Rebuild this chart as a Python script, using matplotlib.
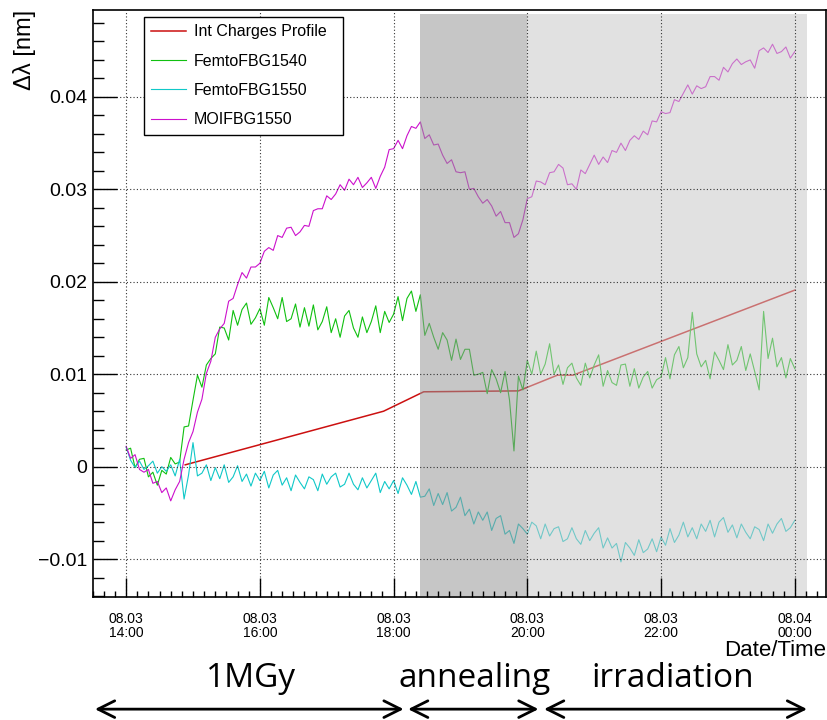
import matplotlib
matplotlib.use("Agg")
import matplotlib.pyplot as plt
import matplotlib.dates as mdates
from matplotlib.ticker import MultipleLocator, FixedLocator, FixedFormatter
import pandas as pd

plt.rcParams['font.family'] = ['Liberation Sans', 'DejaVu Sans']

# sampling of the FBG acquisitions (one value every 4 minutes)
t_start = '2016-08-03 14:00'
t_step = '4min'

moi_1550 = [
    0.0022, 0.0009, 0.0013, -0.0003, -0.0006, -0.0003, -0.0018, -0.0016, -0.0028, -0.0023,
    -0.0037, -0.0025, -0.0016, 0.0008, 0.0026, 0.0038, 0.0059, 0.0073, 0.0101, 0.0114,
    0.0140, 0.0149, 0.0155, 0.0179, 0.0182, 0.0197, 0.0210, 0.0204, 0.0216, 0.0216,
    0.0220, 0.0233, 0.0237, 0.0234, 0.0250, 0.0248, 0.0258, 0.0259, 0.0250, 0.0254,
    0.0261, 0.0260, 0.0277, 0.0279, 0.0279, 0.0293, 0.0289, 0.0295, 0.0305, 0.0299,
    0.0311, 0.0305, 0.0313, 0.0302, 0.0307, 0.0313, 0.0301, 0.0314, 0.0324, 0.0343,
    0.0344, 0.0353, 0.0344, 0.0358, 0.0368, 0.0366, 0.0373, 0.0355, 0.0359, 0.0348,
    0.0349, 0.0337, 0.0328, 0.0332, 0.0319, 0.0318, 0.0319, 0.0300, 0.0301, 0.0292,
    0.0285, 0.0289, 0.0282, 0.0271, 0.0276, 0.0264, 0.0264, 0.0248, 0.0252, 0.0267,
    0.0290, 0.0292, 0.0309, 0.0308, 0.0305, 0.0318, 0.0319, 0.0327, 0.0323, 0.0305,
    0.0306, 0.0300, 0.0321, 0.0317, 0.0327, 0.0337, 0.0327, 0.0335, 0.0329, 0.0342,
    0.0340, 0.0350, 0.0342, 0.0353, 0.0358, 0.0354, 0.0363, 0.0359, 0.0374, 0.0373,
    0.0384, 0.0382, 0.0383, 0.0397, 0.0395, 0.0404, 0.0413, 0.0403, 0.0412, 0.0409,
    0.0411, 0.0422, 0.0422, 0.0418, 0.0432, 0.0427, 0.0436, 0.0441, 0.0435, 0.0438,
    0.0440, 0.0431, 0.0450, 0.0453, 0.0448, 0.0457, 0.0447, 0.0449, 0.0454, 0.0442,
    0.0449,
]

femto_1540 = [
    0.0018, 0.0020, -0.0001, 0.0008, 0.0009, -0.0011, -0.0006, -0.0020, -0.0004, -0.0008,
    0.0010, 0.0003, 0.0005, 0.0043, 0.0044, 0.0072, 0.0099, 0.0086, 0.0110, 0.0117,
    0.0122, 0.0151, 0.0150, 0.0137, 0.0169, 0.0153, 0.0170, 0.0177, 0.0154, 0.0161,
    0.0171, 0.0153, 0.0183, 0.0172, 0.0160, 0.0183, 0.0157, 0.0160, 0.0176, 0.0151,
    0.0172, 0.0152, 0.0175, 0.0148, 0.0157, 0.0173, 0.0145, 0.0160, 0.0140, 0.0163,
    0.0169, 0.0150, 0.0140, 0.0162, 0.0145, 0.0157, 0.0174, 0.0145, 0.0168, 0.0156,
    0.0165, 0.0184, 0.0158, 0.0182, 0.0190, 0.0168, 0.0186, 0.0142, 0.0155, 0.0140,
    0.0127, 0.0145, 0.0137, 0.0115, 0.0138, 0.0116, 0.0127, 0.0127, 0.0099, 0.0100,
    0.0102, 0.0079, 0.0105, 0.0095, 0.0080, 0.0103, 0.0072, 0.0017, 0.0098, 0.0083,
    0.0115, 0.0100, 0.0125, 0.0100, 0.0111, 0.0133, 0.0100, 0.0110, 0.0089, 0.0107,
    0.0112, 0.0096, 0.0088, 0.0112, 0.0096, 0.0110, 0.0121, 0.0087, 0.0104, 0.0091,
    0.0088, 0.0110, 0.0111, 0.0087, 0.0106, 0.0085, 0.0097, 0.0103, 0.0085, 0.0094,
    0.0097, 0.0118, 0.0095, 0.0121, 0.0130, 0.0107, 0.0118, 0.0167, 0.0122, 0.0108,
    0.0115, 0.0095, 0.0124, 0.0115, 0.0105, 0.0132, 0.0110, 0.0115, 0.0130, 0.0104,
    0.0122, 0.0103, 0.0083, 0.0168, 0.0117, 0.0139, 0.0108, 0.0118, 0.0096, 0.0117,
    0.0106,
]

femto_1550 = [
    0.0021, 0.0007, -0.0001, 0.0006, -0.0003, 0.0001, 0.0006, -0.0007, 0.0000, -0.0005,
    0.0002, -0.0010, 0.0008, -0.0035, -0.0009, 0.0026, -0.0010, -0.0007, 0.0002, -0.0015,
    -0.0001, -0.0013, 0.0002, -0.0017, -0.0011, 0.0001, -0.0016, -0.0008, -0.0021, -0.0007,
    -0.0015, -0.0005, -0.0023, -0.0009, -0.0004, -0.0020, -0.0012, -0.0026, -0.0009, -0.0017,
    -0.0024, -0.0011, -0.0014, -0.0026, -0.0008, -0.0019, -0.0011, -0.0007, -0.0022, -0.0019,
    -0.0007, -0.0019, -0.0025, -0.0012, -0.0023, -0.0015, -0.0007, -0.0028, -0.0016, -0.0024,
    -0.0015, -0.0029, -0.0012, -0.0020, -0.0030, -0.0016, -0.0033, -0.0032, -0.0024, -0.0042,
    -0.0029, -0.0041, -0.0028, -0.0048, -0.0044, -0.0033, -0.0053, -0.0046, -0.0062, -0.0049,
    -0.0058, -0.0049, -0.0069, -0.0056, -0.0053, -0.0073, -0.0069, -0.0083, -0.0062, -0.0067,
    -0.0073, -0.0060, -0.0064, -0.0078, -0.0062, -0.0075, -0.0067, -0.0065, -0.0081, -0.0078,
    -0.0066, -0.0078, -0.0084, -0.0069, -0.0080, -0.0072, -0.0066, -0.0088, -0.0077, -0.0088,
    -0.0083, -0.0103, -0.0082, -0.0088, -0.0096, -0.0079, -0.0093, -0.0089, -0.0078, -0.0092,
    -0.0076, -0.0085, -0.0067, -0.0082, -0.0074, -0.0060, -0.0076, -0.0066, -0.0078, -0.0062,
    -0.0070, -0.0058, -0.0076, -0.0060, -0.0055, -0.0071, -0.0063, -0.0077, -0.0062, -0.0071,
    -0.0078, -0.0065, -0.0068, -0.0080, -0.0062, -0.0072, -0.0062, -0.0056, -0.0070, -0.0066,
    -0.0058,
]

# integrated charge profile (break points)
charge_times = ['2016-08-03 14:53', '2016-08-03 17:51', '2016-08-03 18:27', '2016-08-03 19:52',
                '2016-08-03 20:27', '2016-08-03 20:41', '2016-08-04 00:00']
charge_vals = [0.0002, 0.0060, 0.0081, 0.0082, 0.0099, 0.0099, 0.0191]

# shaded periods and phase annotations
dark_span = ('2016-08-03 18:24', '2016-08-03 20:00')
light_span = ('2016-08-03 20:00', '2016-08-04 00:11')
phase_names = ['1MGy', 'annealing', 'irradiation']
phase_starts = ['2016-08-03 13:32', '2016-08-03 18:13', '2016-08-03 20:15']
phase_ends = ['2016-08-03 18:09', '2016-08-03 20:10', '2016-08-04 00:11']
phase_text_x = ['2016-08-03 15:52', '2016-08-03 19:13', '2016-08-03 22:10']

y_ticks = [-0.01, 0.0, 0.01, 0.02, 0.03, 0.04]
y_labels = ['\u22120.01', '0', '0.01', '0.02', '0.03', '0.04']


def dnum(s):
    return mdates.date2num(pd.Timestamp(s))


times = pd.date_range(t_start, periods=len(moi_1550), freq=t_step)
tc = pd.to_datetime(charge_times)

fig = plt.figure(figsize=(8.27, 7.2), dpi=100)
ax = fig.add_axes([0.1121, 0.1708, 0.8867, 0.8153])

ax.plot(tc, charge_vals, color='#cc1010', lw=1.1, label='Int Charges Profile')
ax.plot(times, femto_1540, color='#10c010', lw=0.8, label='FemtoFBG1540')
ax.plot(times, femto_1550, color='#10c8c8', lw=0.8, label='FemtoFBG1550')
ax.plot(times, moi_1550, color='#cc10cc', lw=0.8, label='MOIFBG1550')

# grey boxes laid over the curves
ax.axvspan(dnum(dark_span[0]), dnum(dark_span[1]), ymin=0.002, ymax=0.993,
           facecolor='#969696', alpha=0.54, lw=0, zorder=2.2)
ax.axvspan(dnum(light_span[0]), dnum(light_span[1]), ymin=0.002, ymax=0.993,
           facecolor='#c8c8c8', alpha=0.53, lw=0, zorder=2.2)

ax.set_xlim(dnum('2016-08-03 13:30'), dnum('2016-08-04 00:28'))
ax.set_ylim(-0.0141, 0.0494)

ax.xaxis.set_major_locator(mdates.HourLocator(byhour=range(0, 24, 2)))
ax.xaxis.set_minor_locator(mdates.MinuteLocator(byminute=range(0, 60, 10)))
ax.xaxis.set_major_formatter(mdates.DateFormatter('%m.%d\n%H:%M'))
ax.yaxis.set_major_locator(FixedLocator(y_ticks))
ax.yaxis.set_major_formatter(FixedFormatter(y_labels))
ax.yaxis.set_minor_locator(MultipleLocator(0.002))

ax.tick_params(axis='x', which='major', direction='in', length=14, width=1, labelsize=10, pad=11)
ax.tick_params(axis='x', which='minor', direction='in', length=4, width=1)
ax.tick_params(axis='y', which='major', direction='in', length=17, width=1, labelsize=14, pad=4)
ax.tick_params(axis='y', which='minor', direction='in', length=8, width=1)

ax.set_axisbelow(False)
ax.grid(True, which='major', color='#333333', linestyle=(0, (1, 2)), lw=0.8)
for sp in ax.spines.values():
    sp.set_linewidth(1.2)

ax.set_xlabel('Date/Time', loc='right', fontsize=16, labelpad=0)
ax.set_ylabel('\u0394\u03bb [nm]', loc='top', fontsize=17)
ax.yaxis.set_label_coords(-0.077, 1.0)

leg = ax.legend(loc='upper left', bbox_to_anchor=(0.070, 0.785, 0.271, 0.203), mode='expand',
                borderaxespad=0, fontsize=11.5, handlelength=2.2, handletextpad=0.45,
                labelspacing=0.9, borderpad=0.45, fancybox=False, framealpha=1,
                edgecolor='black')
leg.get_frame().set_linewidth(1.0)
leg.set_zorder(5)

trans = ax.get_xaxis_transform()
for name, s, e, tx in zip(phase_names, phase_starts, phase_ends, phase_text_x):
    ax.text(dnum(tx), -0.153, name, transform=trans, ha='center', va='baseline',
            fontsize=24, family='Open Sans', clip_on=False)
    ax.annotate('', xy=(dnum(e), -0.191), xytext=(dnum(s), -0.191),
                xycoords=trans, textcoords=trans, annotation_clip=False,
                arrowprops=dict(arrowstyle='<->,head_length=0.4,head_width=0.2',
                                mutation_scale=30, lw=2, color='black',
                                shrinkA=0, shrinkB=0))

fig.canvas.draw()
for lab in ax.get_xticklabels():
    lab.set_linespacing(0.95)
fig.savefig('out.png', dpi=100)
